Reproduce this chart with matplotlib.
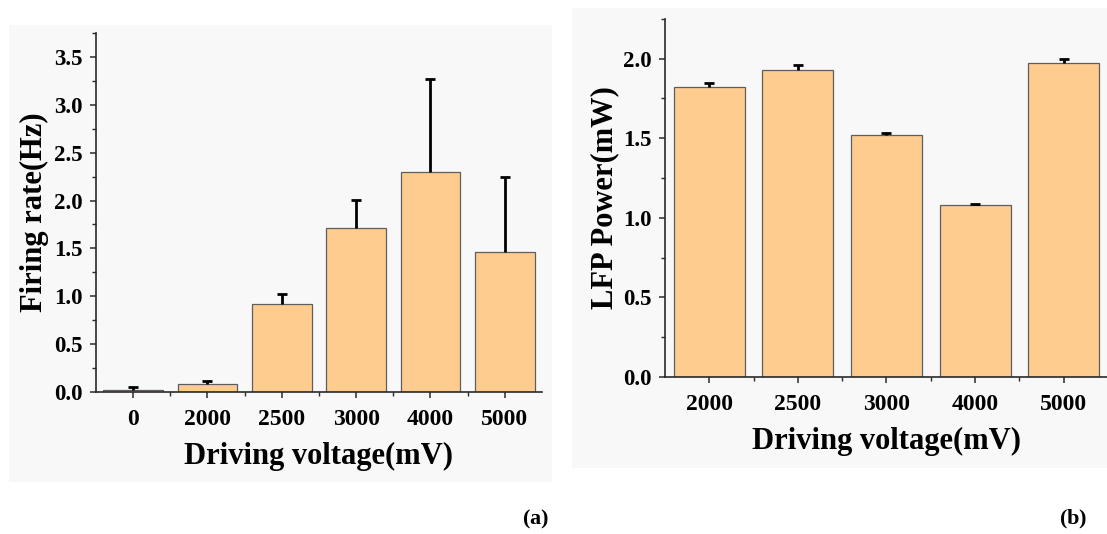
#!/usr/bin/env python3

import numpy as np
import matplotlib
matplotlib.use('Agg')
import matplotlib.pyplot as plt
from matplotlib.ticker import MultipleLocator, FixedLocator
from matplotlib.patches import Rectangle

params = {'font.family': 'Liberation Serif',
          'font.weight': 'bold',
          'mathtext.fontset': 'custom',
          'mathtext.rm': 'Liberation Serif',
          'mathtext.bf': 'Liberation Serif:bold'}
plt.rcParams.update(params)

# panel (a): firing rate
volt_a = ['0', '2000', '2500', '3000', '4000', '5000']
rate = [0.02, 0.08, 0.92, 1.71, 2.30, 1.46]
rate_err = [0.03, 0.03, 0.10, 0.30, 0.97, 0.79]

# panel (b): LFP power
volt_b = ['2000', '2500', '3000', '4000', '5000']
lfp = [1.82, 1.93, 1.52, 1.08, 1.97]
lfp_err = [0.025, 0.03, 0.01, 0.008, 0.03]

bar_color = '#ffcc8f'
edge_color = '#5e5e5e'
bg_color = '#f8f8f8'

fig = plt.figure(figsize=(11.07, 5.34), dpi=100)

# light grey panel backgrounds
fig.patches.append(Rectangle((0.0081, 0.0974), 0.4905, 0.855, transform=fig.transFigure,
                             facecolor=bg_color, edgecolor='none', zorder=-10))
fig.patches.append(Rectangle((0.5167, 0.1236), 0.4833, 0.8605, transform=fig.transFigure,
                             facecolor=bg_color, edgecolor='none', zorder=-10))

ax1 = fig.add_axes([0.0867, 0.2659, 0.4029, 0.6723])
ax2 = fig.add_axes([0.6007, 0.294, 0.4002, 0.671])


def style_axes(ax, labels, vals, errs, ymax, ylabel, ypad):
    x = np.arange(len(labels))
    ax.bar(x, vals, width=0.8, color=bar_color, edgecolor=edge_color, linewidth=0.9, zorder=2)
    eb = ax.errorbar(x, vals, yerr=[np.zeros(len(errs)), errs], fmt='none', ecolor='black',
                     elinewidth=2.0, capsize=3.6, capthick=2.0, zorder=3)
    # upper error only: hide the lower cap that sits on the bar top
    eb[1][0].set_visible(False)
    ax.patch.set_alpha(0)
    ax.set_xlim(-0.5, len(labels) - 0.5)
    ax.set_ylim(0, ymax)
    ax.set_xticks(x)
    ax.set_xticklabels(labels)
    ax.xaxis.set_minor_locator(FixedLocator(np.arange(0.5, len(labels) - 1, 1)))
    ax.yaxis.set_major_locator(MultipleLocator(0.5))
    ax.yaxis.set_minor_locator(MultipleLocator(0.25))
    ax.yaxis.set_major_formatter(plt.FormatStrFormatter('%.1f'))
    for s in ['top', 'right']:
        ax.spines[s].set_visible(False)
    for s in ['left', 'bottom']:
        ax.spines[s].set_linewidth(1.2)
        ax.spines[s].set_color('#2a2a2a')
    ax.tick_params(axis='both', which='major', direction='out', length=4.5, width=1.1,
                   color='#2a2a2a')
    ax.tick_params(axis='both', which='minor', direction='out', length=2.8, width=1.0,
                   color='#2a2a2a')
    ax.tick_params(axis='x', which='major', pad=7.5, labelsize=17)
    ax.tick_params(axis='y', which='major', pad=5, labelsize=16.5)
    ax.set_xlabel('Driving voltage(mV)', fontsize=22, fontweight='bold', labelpad=9)
    ax.set_ylabel(ylabel, fontsize=22, fontweight='bold', labelpad=ypad)


style_axes(ax1, volt_a, rate, rate_err, 3.75, 'Firing rate(Hz)', 3.5)
style_axes(ax2, volt_b, lfp, lfp_err, 2.25, 'LFP Power(mW)', 2.5)

fig.text(0.4835, 0.028, r'$\mathrm{(}\mathbf{a}\mathrm{)}$', fontsize=16, ha='center', va='center')
fig.text(0.9695, 0.028, r'$\mathrm{(}\mathbf{b}\mathrm{)}$', fontsize=16, ha='center', va='center')

fig.savefig('out.png', dpi=100)
